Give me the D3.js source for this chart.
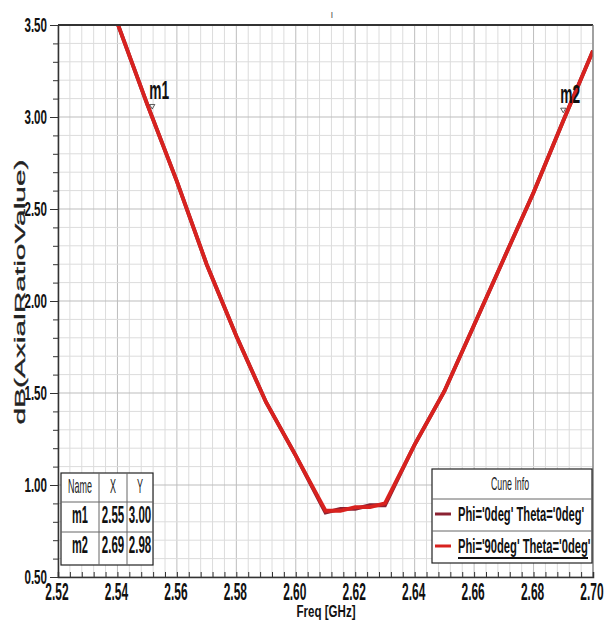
<!DOCTYPE html>
<html><head><meta charset="utf-8">
<script src="https://cdn.jsdelivr.net/npm/d3@7"></script>
<style>body{margin:0;background:#fff}svg{display:block}text{font-family:"Liberation Sans",Arial,sans-serif}</style>
</head><body>
<script>
const freq  = [2.54, 2.55, 2.56, 2.57, 2.58, 2.59, 2.60, 2.61, 2.615, 2.62, 2.625, 2.63, 2.64, 2.65, 2.66, 2.67, 2.68, 2.69, 2.70];
const phi0  = [3.51, 3.07, 2.65, 2.20, 1.81, 1.45, 1.16, 0.85, 0.87, 0.87, 0.89, 0.89, 1.22, 1.51, 1.87, 2.23, 2.59, 2.98, 3.36];
const phi90 = [3.51, 3.07, 2.65, 2.20, 1.81, 1.45, 1.16, 0.86, 0.86, 0.88, 0.88, 0.90, 1.22, 1.51, 1.87, 2.23, 2.59, 2.98, 3.36];
const seriesNames = ["Phi='0deg' Theta='0deg'", "Phi='90deg' Theta='0deg'"];
const seriesColors = ["#8b2232", "#d8221f"];
const markerNames = ["m1", "m2"];
const markerX = [2.5517, 2.6900];
const markerY = [3.00, 2.98];
const xTicks = [2.52, 2.54, 2.56, 2.58, 2.60, 2.62, 2.64, 2.66, 2.68, 2.70];
const yTicks = [0.50, 1.00, 1.50, 2.00, 2.50, 3.00, 3.50];
const xTitle = "Freq [GHz]";
const yTitle = "dB(AxialRatioValue)";
const legendTitle = "Cune Info";
const tableHeader = ["Name", "X", "Y"];

const W = 612, H = 626;
const L = 58, R = 593, T = 25, B = 577;
const x = d3.scaleLinear().domain([2.52, 2.70]).range([L, R]);
const y = d3.scaleLinear().domain([0.5, 3.5]).range([B, T]);

const svg = d3.select("body").append("svg").attr("width", W).attr("height", H);

function txt(g, s, px, py, o) {
  return g.append("text")
    .attr("transform", `translate(${px},${py}) scale(${o.sx},1)`)
    .attr("text-anchor", o.anchor || "middle")
    .attr("font-size", o.size)
    .attr("font-weight", o.weight || "bold")
    .attr("fill", o.fill || "#111")
    .text(s);
}

// grid
const grid = svg.append("g");
const vx = d3.range(0, 46).map(i => 2.52 + i * 0.004);
grid.selectAll(".vg").data(vx).join("line")
  .attr("x1", d => x(d)).attr("x2", d => x(d)).attr("y1", T).attr("y2", B)
  .attr("stroke", (d, i) => i % 5 === 0 ? "#bdbdbd" : "#dcdcdc").attr("stroke-width", 1);
const hy = d3.range(0, 31).map(i => 0.5 + i * 0.1);
grid.selectAll(".hg").data(hy).join("line")
  .attr("y1", d => y(d)).attr("y2", d => y(d)).attr("x1", L).attr("x2", R)
  .attr("stroke", (d, i) => i % 5 === 0 ? "#bdbdbd" : "#dcdcdc").attr("stroke-width", 1);

// curves
svg.append("clipPath").attr("id", "clip").append("rect")
  .attr("x", L).attr("y", T).attr("width", R - L).attr("height", B - T);
const line = d3.line().x(d => x(d[0])).y(d => y(d[1]));
const cg = svg.append("g").attr("clip-path", "url(#clip)");
[phi0, phi90].forEach((s, k) => {
  cg.append("path").datum(freq.map((f, i) => [f, s[i]]))
    .attr("d", line).attr("fill", "none")
    .attr("stroke", seriesColors[k]).attr("stroke-width", 3.8)
    .attr("stroke-linejoin", "miter");
});

// frame
svg.append("line").attr("x1", L).attr("x2", R).attr("y1", T).attr("y2", T).attr("stroke", "#333").attr("stroke-width", 2);
svg.append("line").attr("x1", R).attr("x2", R).attr("y1", T).attr("y2", B).attr("stroke", "#777").attr("stroke-width", 1.2);

// axes (ticks)
const ax = svg.append("g").attr("transform", `translate(0,${B})`)
  .call(d3.axisBottom(x).tickValues(vx).tickSize(-5).tickFormat(""));
ax.selectAll("path,line").attr("stroke", "#333");
ax.select("path").attr("stroke-width", 1.5);
const ay = svg.append("g").attr("transform", `translate(${L},0)`)
  .call(d3.axisLeft(y).tickValues(hy).tickSizeInner(5).tickSizeOuter(0).tickFormat(""));
ay.selectAll("path,line").attr("stroke", "#333");
ay.select("path").attr("stroke-width", 1.5);
ay.selectAll(".tick line").filter((d, i) => i % 5 === 0).attr("x2", -8);

// tick labels
const lab = svg.append("g");
xTicks.forEach(v => txt(lab, v.toFixed(2), x(v) - 1, 600, {size: 23, sx: 0.52}));
yTicks.forEach(v => txt(lab, v.toFixed(2), 47, y(v) + 7, {size: 20, sx: 0.58, anchor: "end"}));

// axis titles
txt(lab, xTitle, 326, 617, {size: 17, sx: 0.68});
lab.append("text")
  .attr("transform", `translate(25,292) rotate(-90)`)
  .attr("text-anchor", "middle").attr("font-size", 14).attr("font-weight", "normal")
  .attr("fill", "#222").attr("stroke", "#222").attr("stroke-width", 0.3)
  .attr("textLength", 265).attr("lengthAdjust", "spacingAndGlyphs")
  .text(yTitle);
lab.append("text").attr("x", 332).attr("y", 18).attr("font-size", 10).attr("fill", "#555")
  .attr("text-anchor", "middle").text("ı");

// markers
const mk = svg.append("g");
markerNames.forEach((n, i) => {
  const px = x(markerX[i]), py = y(markerY[i]) - 11;
  mk.append("path").attr("d", d3.symbol(d3.symbolTriangle, 12)())
    .attr("transform", `translate(${px},${py}) rotate(180)`)
    .attr("fill", "none").attr("stroke", "#333").attr("stroke-width", 0.8);
  txt(mk, n, px - 3, py - 7, {size: 25, sx: 0.55, anchor: "start"});
});

// marker table
const tb = svg.append("g");
const tX = [61, 99, 127, 153], tY = [473, 502, 532, 565];
tb.append("rect").attr("x", tX[0]).attr("y", tY[0]).attr("width", tX[3] - tX[0]).attr("height", tY[3] - tY[0])
  .attr("fill", "#fff").attr("stroke", "#222").attr("stroke-width", 1.2);
[tX[1], tX[2]].forEach(v => tb.append("line").attr("x1", v).attr("x2", v).attr("y1", tY[0]).attr("y2", tY[3]).attr("stroke", "#666"));
[tY[1], tY[2]].forEach(v => tb.append("line").attr("y1", v).attr("y2", v).attr("x1", tX[0]).attr("x2", tX[3]).attr("stroke", "#666"));
tableHeader.forEach((h, c) => txt(tb, h, (tX[c] + tX[c + 1]) / 2, 493, {size: 20, sx: 0.45, weight: "normal", fill: "#222"}));
markerNames.forEach((n, r) => {
  const by = tY[r + 1] + 21;
  txt(tb, n, (tX[0] + tX[1]) / 2, by, {size: 24, sx: 0.46});
  txt(tb, markerX[r].toFixed(2), (tX[1] + tX[2]) / 2, by, {size: 24, sx: 0.48});
  txt(tb, markerY[r].toFixed(2), (tX[2] + tX[3]) / 2, by, {size: 24, sx: 0.48});
});

// legend
const lg = svg.append("g");
const lX0 = 432, lX1 = 592, lY = [469, 499, 531, 563];
lg.append("rect").attr("x", lX0).attr("y", lY[0]).attr("width", lX1 - lX0).attr("height", lY[3] - lY[0])
  .attr("fill", "#fff").attr("stroke", "#222").attr("stroke-width", 1.2);
[lY[1], lY[2]].forEach(v => lg.append("line").attr("y1", v).attr("y2", v).attr("x1", lX0).attr("x2", lX1).attr("stroke", "#666"));
txt(lg, legendTitle, 510, 490, {size: 18, sx: 0.49, weight: "normal", fill: "#222"});
seriesNames.forEach((n, i) => {
  const cy = (lY[i + 1] + lY[i + 2]) / 2;
  lg.append("line").attr("x1", 435).attr("x2", 451).attr("y1", cy - 1).attr("y2", cy - 1)
    .attr("stroke", seriesColors[i]).attr("stroke-width", 3);
  txt(lg, n, 458, cy + 6, {size: 20, sx: 0.56, anchor: "start"});
});
lg.append("line").attr("x1", 458).attr("x2", 588).attr("y1", 558).attr("y2", 558).attr("stroke", "#111").attr("stroke-width", 2);
</script>
</body></html>
